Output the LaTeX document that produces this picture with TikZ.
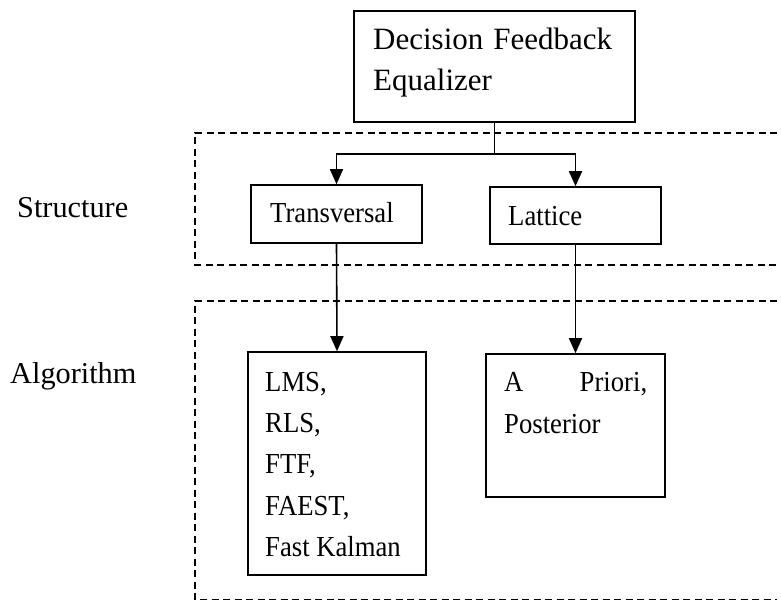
\documentclass[tikz,border=0pt]{standalone}
\usepackage{fontspec}
\setmainfont{Liberation Serif}
\newfontfamily\narrowserif{Liberation Serif}[FakeStretch=0.92]
\usetikzlibrary{arrows.meta}
\begin{document}
\begin{tikzpicture}[x=1pt,y=-1pt,
  box/.style={draw,line width=1.6pt,rectangle,inner sep=0pt},
  txt/.style={anchor=base west,inner sep=0pt,font=\narrowserif\fontsize{29}{34}\selectfont},
  toptxt/.style={anchor=base west,inner sep=0pt,font=\fontsize{31}{36}\selectfont},
  side/.style={anchor=base west,inner sep=0pt,font=\fontsize{30.3}{36}\selectfont},
  group/.style={line width=1.3pt,dash pattern=on 7pt off 4.5pt},
  link/.style={line width=1.6pt},
  arr/.style={link,-{Triangle[length=15pt,width=13pt]}}]
\useasboundingbox (0,0) rectangle (781,601);

% grouping frames (open on the right)
\draw[group] (777,133) -- (195,133) -- (195,265) -- (777,265);
\draw[group] (777,301) -- (195,301) -- (195,599.5) -- (777,599.5);

% side labels
\node[side] (lstruct) at (17,218) {Structure};
\node[side] (lalgo) at (10,383) {Algorithm};

% boxes
\node[box,minimum width=281pt,minimum height=111pt] (dfe) at (494.5,66.5) {};
\node[box,minimum width=171pt,minimum height=58pt] (trans) at (336.5,214) {};
\node[box,minimum width=171pt,minimum height=57pt] (latt) at (575.5,215.5) {};
\node[box,minimum width=178pt,minimum height=223pt] (lms) at (337,463.5) {};
\node[box,minimum width=179pt,minimum height=143pt] (apri) at (575.5,425.5) {};

% box texts
\node[toptxt] (t1) at (373,50) {\makebox[239pt][s]{Decision Feedback}};
\node[toptxt] (t2) at (373,90.5) {Equalizer};
\node[txt] (t3) at (270,223) {Transversal};
\node[txt] (t4) at (508,226) {Lattice};
\foreach \s/\yy [count=\i] in {{LMS,}/391,{RLS,}/432,{FTF,}/473.5,{FAEST,}/515,{Fast Kalman}/556}
  \node[txt] (m\i) at (265,\yy) {\s};
\node[txt] (p1) at (504,391) {\makebox[143pt][s]{A\hfill Priori,}};
\node[txt] (p2) at (504,433) {Posterior};

% connectors
\coordinate (split) at ([yshift=-31.5pt]dfe.south);
\draw[link] (dfe.south) -- (split);
\draw[arr] (split) -| (trans.north);
\draw[arr] (split) -| (latt.north);
\draw[arr] (trans.south) -- (lms.north);
\draw[arr] (latt.south) -- (apri.north);
\end{tikzpicture}
\end{document}
